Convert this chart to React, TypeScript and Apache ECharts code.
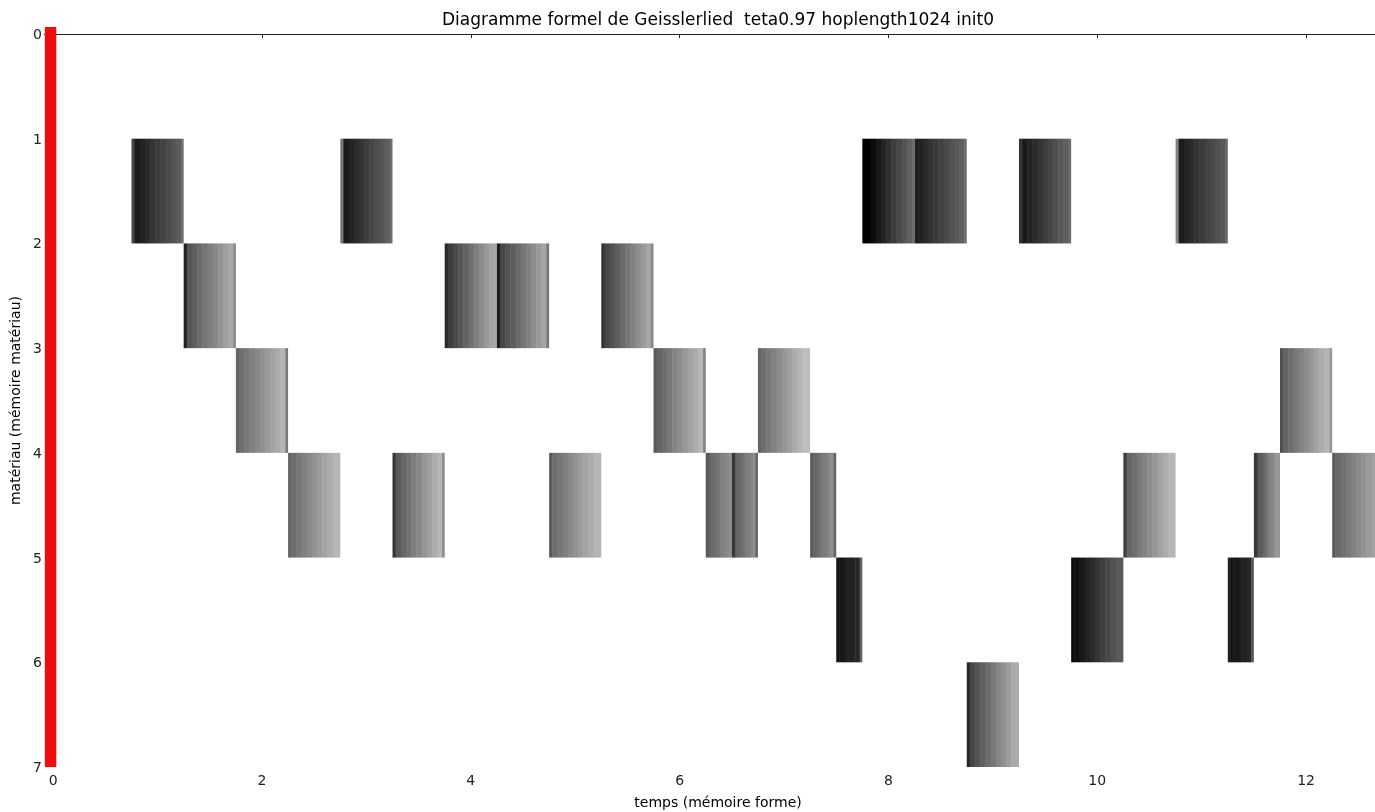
import React, { useEffect, useRef } from "react";
import * as echarts from "echarts";

const titleText = "Diagramme formel de Geisslerlied  teta0.97 hoplength1024 init0";
const xName = "temps (mémoire forme)";
const yName = "matériau (mémoire matériau)";
const xTicks = [0, 2, 4, 6, 8, 10, 12];

// block start, block end, material row (top of cell)
const blockStart = [0.75, 2.75, 7.75, 8.25, 9.25, 10.75, 1.25, 3.75, 4.25, 5.25, 1.75, 5.75, 6.75, 11.75, 2.25, 3.25, 4.75, 6.25, 6.5, 7.25, 10.25, 11.5, 12.25, 7.5, 9.75, 11.25, 8.75];
const blockEnd = [1.25, 3.25, 8.25, 8.75, 9.75, 11.25, 1.75, 4.25, 4.75, 5.75, 2.25, 6.25, 7.25, 12.25, 2.75, 3.75, 5.25, 6.5, 6.75, 7.5, 10.75, 11.75, 12.75, 7.75, 10.25, 11.5, 9.25];
const blockRow = [1, 1, 1, 1, 1, 1, 2, 2, 2, 2, 3, 3, 3, 3, 4, 4, 4, 4, 4, 4, 4, 4, 4, 5, 5, 5, 6];
// grey levels (0-255): left edge stripe, darkest, lightest, right edge stripe
const greyEdgeL = [68, 120, 0, 30, 50, 130, 34, 40, 30, 50, 100, 90, 100, 80, 100, 55, 90, 90, 55, 90, 60, 55, 90, 20, 10, 34, 40];
const greyDark = [26, 26, 0, 34, 26, 28, 85, 60, 70, 70, 110, 100, 110, 100, 110, 90, 110, 100, 95, 100, 100, 80, 105, 22, 15, 18, 70];
const greyLight = [92, 95, 96, 96, 96, 88, 168, 165, 165, 165, 180, 182, 190, 182, 182, 182, 182, 138, 140, 140, 182, 150, 170, 40, 90, 40, 170];
const greyEdgeR = [110, 110, 110, 110, 110, 100, 136, 165, 120, 136, 120, 130, 190, 150, 182, 140, 182, 138, 100, 100, 182, 150, 170, 100, 90, 90, 170];

const marker = { start: -0.08, end: 0.03, top: 0, bottom: 7 };

function grey(v: number) {
  const c = Math.max(0, Math.min(255, Math.round(v)));
  return `rgb(${c},${c},${c})`;
}

export default function App() {
  const ref = useRef<HTMLDivElement>(null);
  useEffect(() => {
    if (!ref.current) return;
    const chart = echarts.init(ref.current, undefined, { renderer: "svg" });
    const blocks = blockStart.map((s, i) => [s, blockEnd[i], blockRow[i], greyEdgeL[i], greyDark[i], greyLight[i], greyEdgeR[i]]);
    const font = "DejaVu Sans";
    const steps = 9;
    chart.setOption({
      animation: false,
      textStyle: { fontFamily: font },
      graphic: [
        {
          type: "text",
          x: 718,
          y: 19,
          style: { text: titleText, fill: "#000", font: `17px "${font}"`, textAlign: "center", textVerticalAlign: "middle" },
        },
        {
          type: "text",
          x: 718,
          y: 802,
          style: { text: xName, fill: "#000", font: `14px "${font}"`, textAlign: "center", textVerticalAlign: "middle" },
        },
      ],
      grid: { left: 44, top: 34, right: 0, height: 733 },
      xAxis: [
        {
          type: "value",
          min: -0.08,
          max: 12.66,
          position: "bottom",
          axisLine: { show: true, lineStyle: { color: "#222", width: 1 } },
          axisTick: { show: true, length: 4, customValues: xTicks, lineStyle: { color: "#222" } },
          axisLabel: { customValues: xTicks, fontSize: 14, color: "#222", margin: 6, fontFamily: font },
          splitLine: { show: false },
        },
        {
          type: "value",
          min: -0.08,
          max: 12.66,
          position: "top",
          axisLine: { show: true, lineStyle: { color: "#222", width: 1 } },
          axisTick: { show: false },
          axisLabel: { show: false },
          splitLine: { show: false },
        },
      ],
      yAxis: {
        type: "value",
        inverse: true,
        min: 0,
        max: 7,
        interval: 1,
        name: yName,
        nameLocation: "middle",
        nameGap: 21,
        nameRotate: 90,
        nameTextStyle: { fontSize: 14, color: "#000", fontFamily: font },
        axisLine: { show: false },
        axisTick: { show: false },
        axisLabel: { fontSize: 14, color: "#222", margin: 3, fontFamily: font },
        splitLine: { show: false },
      },
      series: [
        {
          type: "custom",
          clip: true,
          encode: { x: [0, 1], y: 2 },
          data: blocks,
          renderItem: (params: any, api: any) => {
            const x0 = api.value(0);
            const x1 = api.value(1);
            const r = api.value(2);
            const eL = api.value(3);
            const dk = api.value(4);
            const lt = api.value(5);
            const eR = api.value(6);
            const p0 = api.coord([x0, r]);
            const p1 = api.coord([x1, r + 1]);
            const w = p1[0] - p0[0];
            const h = p1[1] - p0[1];
            const children: any[] = [];
            const unit = api.coord([0.5, 0])[0] - api.coord([0, 0])[0];
            const edgeL = unit * 0.06;
            const edgeR = unit * 0.05;
            const inner = w - edgeL - edgeR;
            children.push({ type: "rect", shape: { x: p0[0], y: p0[1], width: edgeL + 0.5, height: h }, style: { fill: grey(eL) } });
            for (let k = 0; k < steps; k++) {
              const v = dk + ((lt - dk) * k) / (steps - 1);
              children.push({
                type: "rect",
                shape: { x: p0[0] + edgeL + (inner * k) / steps, y: p0[1], width: inner / steps + 0.5, height: h },
                style: { fill: grey(v) },
              });
            }
            children.push({ type: "rect", shape: { x: p1[0] - edgeR, y: p0[1], width: edgeR, height: h }, style: { fill: grey(eR) } });
            return { type: "group", children };
          },
        },
        {
          type: "custom",
          clip: false,
          encode: { x: [0, 1], y: [2, 3] },
          data: [[marker.start, marker.end, marker.top, marker.bottom]],
          renderItem: (params: any, api: any) => {
            const p0 = api.coord([api.value(0), api.value(2)]);
            const p1 = api.coord([api.value(1), api.value(3)]);
            return {
              type: "rect",
              shape: { x: p0[0], y: p0[1] - 7, width: p1[0] - p0[0], height: p1[1] - p0[1] + 7 },
              style: { fill: "#f00c0c" },
              z2: 10,
            };
          },
        },
      ],
    });
    return () => chart.dispose();
  }, []);
  return <div ref={ref} style={{ position: "fixed", left: 0, top: 0, width: 1375, height: 812 }} />;
}
